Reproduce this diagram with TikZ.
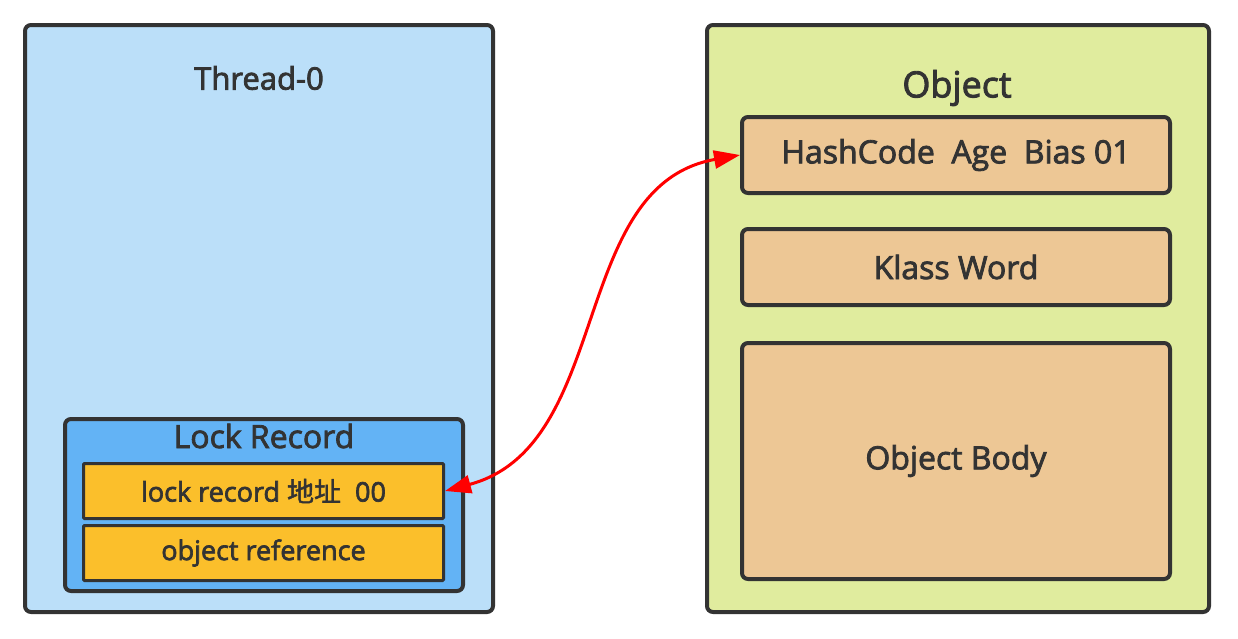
\documentclass[tikz,border=0pt]{standalone}
\usepackage{fontspec}
\setmainfont{Open Sans}[FakeBold=2.5, UprightFeatures={FakeBold=2.5}]
\newfontfamily\cjk{Noto Sans CJK SC}[UprightFeatures={FakeBold=1.5}]
\usepackage{xcolor}
\usetikzlibrary{arrows.meta,positioning}

\definecolor{inkgray}{HTML}{333333}
\definecolor{threadblue}{HTML}{BBDFF9}
\definecolor{recordblue}{HTML}{63B3F5}
\definecolor{slotyellow}{HTML}{FBBF2B}
\definecolor{objgreen}{HTML}{E0EC9E}
\definecolor{fieldtan}{HTML}{EDC795}
\definecolor{linkred}{HTML}{FF0000}

\begin{document}
\begin{tikzpicture}[
    x=0.5pt, y=0.5pt,
    text=inkgray,
    container/.style={
        rectangle, draw=inkgray, line width=2pt, rounded corners=3pt,
        inner sep=0pt
    },
    title/.style={
        inner sep=0pt, font=\fontsize{15.5}{18}\selectfont
    },
    slot/.style={
        rectangle, draw=inkgray, line width=1.5pt, rounded corners=0.5pt,
        fill=slotyellow, minimum width=180pt, minimum height=27.5pt,
        inner sep=0pt, font=\fontsize{13.5}{16}\selectfont
    },
    field/.style={
        rectangle, draw=inkgray, line width=2pt, rounded corners=3pt,
        fill=fieldtan, minimum width=214pt, inner sep=0pt,
        font=\fontsize{16}{19}\selectfont
    },
    link/.style={
        draw=linkred, line width=1.5pt,
        {Triangle[length=13pt, width=9pt]}-{Triangle[length=13pt, width=9pt]}
    }
]
    \useasboundingbox (0,0) rectangle (1238,-638);

    % Thread stack
    \node [container, fill=threadblue, minimum width=234pt, minimum height=293.5pt] (thread) at (259,-318.5) {};
    \node [title] (threadname) at (259,-78) {Thread-0};

    % Lock record inside the frame
    \node [container, fill=recordblue, minimum width=199pt, minimum height=86pt] (record) at (264,-505) {};
    \node [title, font=\fontsize{16}{19}\selectfont] (recordname) at (264,-436) {Lock Record};
    \node [slot] (lraddr) at (263.5,-491) {lock record {\cjk 地址}\ \ 00};
    \node [slot, below=2pt of lraddr] (objref) {object reference};

    % Object in the heap
    \node [container, fill=objgreen, minimum width=251pt, minimum height=293.5pt] (object) at (958,-318.5) {};
    \node [title, font=\fontsize{18}{21}\selectfont] (objname) at (957,-88) {Object};
    \node [field, minimum height=38pt] (markword) at (956,-155) {HashCode\ \ Age\ \ Bias 01};
    \node [field, minimum height=38pt, below=16pt of markword] (klass) {Klass Word};
    \node [field, minimum height=118pt, below=17pt of klass] (body) {Object Body};

    % Displaced header link
    \draw [link] (lraddr.east) to[out=15, in=190] (markword.west);

\end{tikzpicture}
\end{document}
